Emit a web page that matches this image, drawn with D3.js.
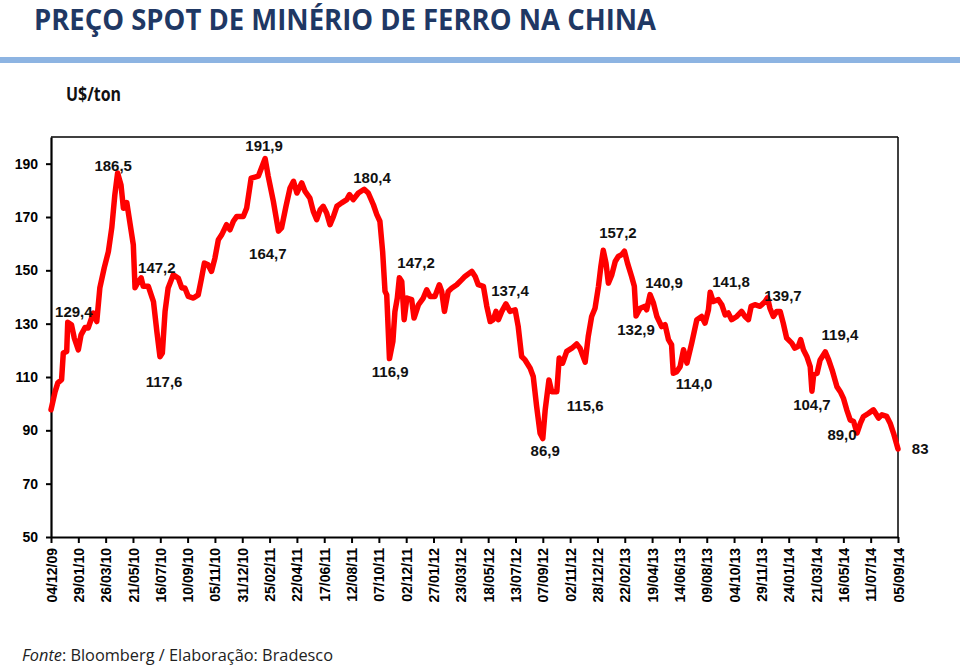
<!DOCTYPE html>
<html>
<head>
<meta charset="utf-8">
<script src="https://cdn.jsdelivr.net/npm/d3@7"></script>
<style>
  html, body { margin: 0; padding: 0; background: #ffffff; }
  svg { display: block; }
</style>
</head>
<body>
<svg id="chart" width="960" height="666"></svg>
<script>
// ---------- DATA ----------
// weeks since 04/12/2009 and spot price (US$/ton)
const weeks = [0,1.2,2,3.1,3.6,4.6,4.9,6,6.8,8,8.8,10,10.9,12.4,13.4,14.3,15.6,16.8,17.8,18.7,19.5,20.5,21.2,22.2,22.6,24.1,24.6,25.6,26.4,27,28.5,30,31,31.9,32.6,33.4,34.3,35.8,37.3,38.3,39.2,40.2,41.7,43.1,44.1,44.9,46,47,48,49,50,51.4,52.4,53.4,54.4,56.3,57.3,58.6,60.7,62.7,63.6,65.1,66.6,67.5,68.8,70,71,72,73.4,74.4,75.8,76.8,77.8,78.8,79.7,80.7,81.7,82.7,83.7,85.1,86.6,87.4,88.5,90,91.7,92.9,94.4,95.4,96.3,97.1,97.8,98.3,99.1,100.1,100.7,101.4,102,102.7,103.4,104.2,105.6,106.3,107.6,109,110,111,112.4,113.7,114.4,115.2,116.3,117.3,118.8,120.3,121.2,123.2,124.2,125.1,126.6,127.6,128.6,129.5,130.3,131,132,133.2,134.4,135.9,136.8,137.8,138.8,140.3,141.2,142.2,143.2,144,144.7,145.8,146.6,148.1,148.8,149.8,151,152.5,153.9,154.9,156.4,157.3,158.3,159.3,160.3,161,161.7,162.5,163.2,164.2,165.2,166.1,167.1,167.9,168.8,170,170.8,171.3,172.5,173.9,174.4,175.4,176.4,177.4,178.8,179.8,180.8,181.7,182.2,183.2,184.2,185.2,186.2,187.6,189.1,190.5,191.5,192.5,193,193.9,195.4,196.4,197.4,198.3,199.3,200.8,202.2,203.2,204.2,205,206.1,207.6,209.1,209.8,210.5,211.5,212.5,213.5,214.4,215.4,216.9,217.8,218.8,219.5,220.3,221.3,222.3,222.8,223.3,224.3,225.2,226.7,227.7,228.7,230.1,231.1,232,233,234,235,236,237,237.9,239.4,240.8,242.3,243.3,244.7,245.7,246.7,248];
const prices = [97.7,104.5,107.8,109,119,119.6,130.5,129.6,124.7,120.2,125.8,128.6,128.4,134,130.8,143.4,151,157,166,178.4,186.5,182,173.3,175.4,172,159.6,143.5,145.8,147.2,144,144,138.3,127,117.6,119,134.6,143.4,148.3,147,143.4,143.4,140.2,139.6,140.8,147.2,152.7,152.1,149.6,154.6,161.5,163.4,167.1,165.2,168.4,170.2,170.2,173.4,184.6,185.3,191.9,185.3,175.9,164.7,165.9,174,180.9,183.4,179,182.8,179.6,177.1,172.1,169,172.7,174,171.5,167.1,170.2,174,175.3,176.5,178.4,176.5,179,180.4,179,174.6,170.9,168.4,157.1,142.1,140.8,116.9,123.3,134.6,139.6,147.2,145.8,131.5,139.6,139,132.1,137.1,139.6,142.7,140.2,140.2,144.6,142.1,134.6,142.1,143.3,144.6,146.5,147.7,149.6,147.7,144.6,144,136.5,130.8,131.5,134.6,131.5,134.6,137.4,134.6,135.2,128.9,117.7,116.4,113.3,110.2,98.9,88.9,86.9,97.7,108.9,104.5,104.5,117.1,115.2,119.6,120.8,122.4,120.8,115.6,125.2,132.7,135.8,144,151.5,157.5,152.7,145.2,148.3,153.3,155.2,155.9,157.2,152.7,147.7,144,132.9,135.8,136.5,135.2,140.9,137.7,132.7,128.9,129.6,124,122.1,111.4,112,113.9,120.2,115.2,122.7,131.5,132.7,130.2,135.2,141.8,138.3,139,137.1,133.3,134,131.5,132.7,134.6,132.7,131.5,136.5,137.1,136.5,138.3,139.7,135.8,132.7,134.6,134.6,130.2,124.6,122.7,120.8,121.5,124,120.2,117.7,113.9,104.7,110.8,111.4,116.4,119.4,116.4,112.7,106.4,104.5,102.1,97.7,93.9,93.3,89.0,92.7,95.2,96.4,97.7,94.6,95.8,95.2,92.7,88.9,83];

const tickLabels = ["04/12/09","29/01/10","26/03/10","21/05/10","16/07/10","10/09/10","05/11/10","31/12/10","25/02/11","22/04/11","17/06/11","12/08/11","07/10/11","02/12/11","27/01/12","23/03/12","18/05/12","13/07/12","07/09/12","02/11/12","28/12/12","22/02/13","19/04/13","14/06/13","09/08/13","04/10/13","29/11/13","24/01/14","21/03/14","16/05/14","11/07/14","05/09/14"];
const tickWeeks = tickLabels.map((_, i) => i * 8);
const yTicks = [50, 70, 90, 110, 130, 150, 170, 190];

// annotation texts and where their labels sit (week, price of the text baseline)
const noteTexts  = ["129,4","186,5","147,2","117,6","191,9","164,7","180,4","147,2","116,9","137,4","86,9","115,6","157,2","140,9","132,9","114,0","141,8","139,7","119,4","104,7","89,0","83"];
const noteWeeks  = [6.7,18.2,31.0,33.1,62.4,63.5,94.0,106.9,99.3,134.4,144.7,156.4,166.0,179.5,171.3,188.3,199.1,214.3,231.0,222.8,231.6,254.5];
const notePrices = [132.6,187.4,149.1,106.3,194.9,154.4,182.6,151.0,110.1,140.5,80.4,97.4,162.2,143.5,125.8,105.5,143.8,138.6,123.9,97.7,86.4,81.0];

const title = "PREÇO SPOT DE MINÉRIO DE FERRO NA CHINA";
const unit = "U$/ton";

// ---------- DRAW ----------
const svg = d3.select("#chart");
const chartFont = "'Liberation Sans', Arial, sans-serif";
const textFont = "'Open Sans', 'Noto Sans', sans-serif";

// header
svg.append("text")
  .attr("x", 34).attr("y", 30)
  .attr("font-family", textFont).attr("font-weight", 700)
  .attr("font-size", 28)
  .attr("textLength", 622).attr("lengthAdjust", "spacingAndGlyphs")
  .attr("fill", "#1F3864")
  .text(title);

svg.append("rect")
  .attr("x", 0).attr("y", 57).attr("width", 960).attr("height", 6)
  .attr("fill", "#8DB4E2");

svg.append("text")
  .attr("x", 66).attr("y", 101)
  .attr("font-family", textFont).attr("font-weight", 700)
  .attr("font-size", 19)
  .attr("textLength", 55).attr("lengthAdjust", "spacingAndGlyphs")
  .attr("fill", "#111")
  .text(unit);

// scales
const x = d3.scaleLinear().domain([0, 248]).range([51, 898]);
const y = d3.scaleLinear().domain([50, 200]).range([537, 137]);

// frame (top and right)
svg.append("line")
  .attr("x1", x(0)).attr("x2", x(248)).attr("y1", y(200)).attr("y2", y(200))
  .attr("stroke", "#000").attr("stroke-width", 1.5);
svg.append("line")
  .attr("x1", x(248)).attr("x2", x(248)).attr("y1", y(200)).attr("y2", y(50))
  .attr("stroke", "#000").attr("stroke-width", 1.5);

// y axis
const yAxis = svg.append("g")
  .attr("transform", `translate(${x(0)},0)`)
  .call(d3.axisLeft(y).tickValues(yTicks).tickSize(5).tickSizeOuter(0).tickPadding(8));
yAxis.select(".domain").attr("stroke", "#000").attr("stroke-width", 2.2);
yAxis.selectAll(".tick line").attr("stroke", "#000").attr("stroke-width", 2);
yAxis.selectAll(".tick text")
  .attr("font-family", chartFont).attr("font-weight", 700).attr("font-size", 14)
  .attr("fill", "#000");

// x axis
const xAxis = svg.append("g")
  .attr("transform", `translate(0,${y(50)})`)
  .call(d3.axisBottom(x).tickValues(tickWeeks)
    .tickFormat((d, i) => tickLabels[i]).tickSize(6).tickSizeOuter(0));
xAxis.select(".domain").attr("stroke", "#000").attr("stroke-width", 2.2);
xAxis.selectAll(".tick line").attr("stroke", "#000").attr("stroke-width", 2);
xAxis.selectAll(".tick text")
  .attr("font-family", chartFont).attr("font-weight", 700).attr("font-size", 14)
  .attr("fill", "#000")
  .attr("transform", "rotate(-90)")
  .attr("text-anchor", "end")
  .attr("x", -11).attr("y", 0).attr("dy", "0.36em");

// price line
const series = weeks.map((w, i) => ({ w, v: prices[i] }));
svg.append("path")
  .datum(series)
  .attr("fill", "none")
  .attr("stroke", "#FF0000")
  .attr("stroke-width", 5.5)
  .attr("stroke-linejoin", "round")
  .attr("stroke-linecap", "round")
  .attr("d", d3.line().x(d => x(d.w)).y(d => y(d.v)));

// annotations
const notes = noteTexts.map((t, i) => ({ t, w: noteWeeks[i], v: notePrices[i] }));
svg.append("g").selectAll("text")
  .data(notes).join("text")
  .attr("x", d => x(d.w)).attr("y", d => y(d.v))
  .attr("text-anchor", "middle")
  .attr("font-family", chartFont).attr("font-weight", 700).attr("font-size", 15)
  .attr("fill", "#111")
  .text(d => d.t);

// footer
const foot = svg.append("text")
  .attr("x", 22).attr("y", 661)
  .attr("font-family", textFont).attr("font-size", 17)
  .attr("textLength", 311).attr("lengthAdjust", "spacingAndGlyphs")
  .attr("fill", "#222");
foot.append("tspan").attr("font-style", "italic").text("Fonte");
foot.append("tspan").text(": Bloomberg / Elaboração: Bradesco");
</script>
</body>
</html>
